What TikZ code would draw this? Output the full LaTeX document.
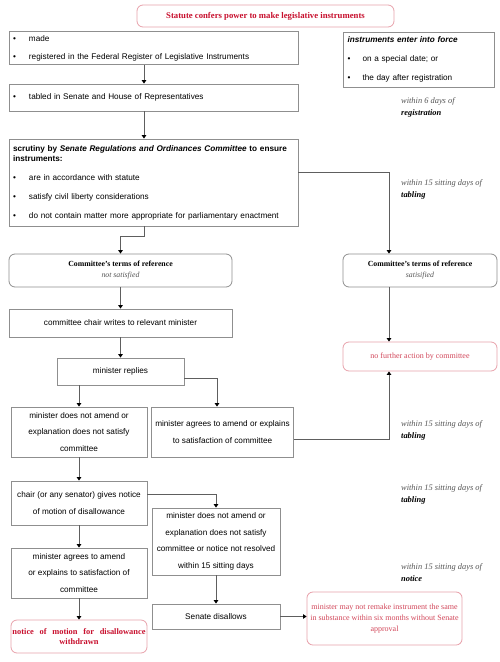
\documentclass[tikz,border=0pt]{standalone}
\usepackage{fontspec}
\setmainfont{Liberation Serif}
\setsansfont{Liberation Sans}
\usetikzlibrary{arrows.meta}
\definecolor{redtxt}{HTML}{C8102E}
\definecolor{lightred}{HTML}{D2475A}
\definecolor{pinkline}{HTML}{E8A2AC}
\definecolor{boxline}{HTML}{8F8F8F}
\definecolor{connline}{HTML}{5E5E5E}
\definecolor{labgray}{HTML}{555555}
\newcommand{\bul}[1]{\makebox[16pt][l]{\textbullet}#1}
\newcommand{\fbul}[1]{\makebox[15pt][l]{\textbullet}#1}
\tikzset{
  sbox/.style={draw=boxline, line width=0.8pt, inner sep=4pt, font=\sffamily\fontsize{8.2}{10}\selectfont},
  cbox/.style={sbox, align=center, font=\sffamily\fontsize{8.2}{16.5}\selectfont},
  rbox/.style={draw=boxline, line width=0.8pt, rounded corners=6pt, align=center},
  pbox/.style={draw=pinkline, line width=0.8pt, rounded corners=6pt, align=center},
  conn/.style={draw=connline, line width=0.8pt, -{Triangle[width=4.5pt,length=3.5pt,color=black]}},
  lab/.style={anchor=west, align=left, inner sep=0pt, font=\fontsize{8.4}{12}\selectfont},
}
\begin{document}
\begin{tikzpicture}[x=1pt,y=-1pt]
\useasboundingbox (0,0) rectangle (500,662);
\fill[white] (0,0) rectangle (500,662);

% title
\node[pbox, minimum width=257pt, minimum height=22pt, font=\bfseries\fontsize{8.7}{10}\selectfont, text=redtxt] (title) at (265.5,16) {Statute confers power to make legislative instruments};

% left column
\node[sbox, text width=281pt, minimum height=32pt, align=left] (b1) at (153.5,48)
  {\bul{made}\\[8pt]\bul{registered in the Federal Register of Legislative Instruments}};
\node[sbox, text width=281pt, minimum height=27pt, align=left] (b2) at (153.5,97.5)
  {\bul{tabled in Senate and House of Representatives}};
\node[sbox, text width=281pt, minimum height=87pt, align=left] (b3) at (153.5,182.5)
  {\textbf{scrutiny by \textit{Senate Regulations and Ordinances Committee} to ensure}\\
   \textbf{instruments:}\\[9pt]
   \bul{are in accordance with statute}\\[9pt]
   \bul{satisfy civil liberty considerations}\\[9pt]
   \bul{do not contain matter more appropriate for parliamentary enactment}};

% force box
\node[sbox, text width=142pt, minimum height=55pt, align=left, inner sep=4.5pt] (force) at (418.5,59.5)
  {\textbf{\textit{instruments enter into force}}\\[9pt]
   \fbul{on a special date; or}\\[9pt]
   \fbul{the day after registration}};

% committee terms
\node[rbox, minimum width=223pt, minimum height=33pt, font=\fontsize{7.8}{11}\selectfont] (ns) at (120.5,270.5)
  {\textbf{Committee’s terms of reference}\\\textcolor{labgray}{\textit{not satisfied}}};
\node[rbox, minimum width=154pt, minimum height=33pt, font=\fontsize{7.8}{11}\selectfont] (sat) at (420,270.5)
  {\textbf{Committee’s terms of reference}\\\textcolor{labgray}{\textit{satisified}}};

\node[cbox, minimum width=223pt, minimum height=28pt] (chair) at (120.5,323) {committee chair writes to relevant minister};
\node[cbox, minimum width=127pt, minimum height=27pt] (replies) at (120.5,371.5) {minister replies};
\node[pbox, minimum width=154pt, minimum height=29pt, font=\fontsize{8}{10}\selectfont, text=lightred] (nfa) at (420,356.5) {no further action by committee};

\node[cbox, minimum width=136pt, minimum height=50pt] (dna) at (79,432)
  {minister does not amend or\\explanation does not satisfy\\committee};
\node[cbox, minimum width=141pt, minimum height=50pt] (agr) at (222.5,432)
  {minister agrees to amend or explains\\to satisfaction of committee};

\node[cbox, minimum width=136pt, minimum height=44pt] (notice) at (79,503)
  {chair (or any senator) gives notice\\of motion of disallowance};
\node[cbox, minimum width=128pt, minimum height=67pt] (mdna) at (216,541.5)
  {minister does not amend or\\explanation does not satisfy\\committee or notice not resolved\\within 15 sitting days};
\node[cbox, minimum width=136pt, minimum height=50pt] (magr) at (79,573)
  {minister agrees to amend\\or explains to satisfaction of\\committee};
\node[pbox, minimum width=136pt, minimum height=33pt, inner sep=1pt, font=\bfseries\fontsize{8.4}{10.5}\selectfont, text=redtxt] (wd) at (79,636.5)
  {\makebox[133pt][s]{notice of motion for disallowance}\\withdrawn};
\node[cbox, minimum width=128pt, minimum height=25pt] (sd) at (216,616.5) {Senate disallows};
\node[pbox, minimum width=155pt, minimum height=53pt, font=\fontsize{8}{11.2}\selectfont, text=lightred] (remake) at (384.5,618.5)
  {minister may not remake instrument the same\\in substance within six months without Senate\\approval};

% timing labels
\node[lab] (l1) at (401,107.5) {\textcolor{labgray}{\textit{within 6 days of}}\\\textbf{\textit{registration}}};
\node[lab] (l2) at (401,189) {\textcolor{labgray}{\textit{within 15 sitting days of}}\\\textbf{\textit{tabling}}};
\node[lab] (l3) at (401,430) {\textcolor{labgray}{\textit{within 15 sitting days of}}\\\textbf{\textit{tabling}}};
\node[lab] (l4) at (401,494) {\textcolor{labgray}{\textit{within 15 sitting days of}}\\\textbf{\textit{tabling}}};
\node[lab] (l5) at (401,573) {\textcolor{labgray}{\textit{within 15 sitting days of}}\\\textbf{\textit{notice}}};

% connectors
\draw[conn] ([xshift=-9.5pt]b1.south) -- ([xshift=-9.5pt]b2.north);
\draw[conn] ([xshift=-9.5pt]b2.south) -- ([xshift=-9.5pt]b3.north);
\draw[conn] ([xshift=-9.5pt]b3.south) -- ++(0,10) -| (ns.north);
\draw[conn] ([yshift=10.5pt]b3.east) -| ([xshift=-31pt]sat.north);
\draw[conn] (ns.south) -- (chair.north);
\draw[conn] (chair.south) -- (replies.north);
\draw[conn] ([xshift=-31pt]sat.south) -- ([xshift=-31pt]nfa.north);
\draw[conn] (replies.south -| dna.north) -- (dna.north);
\draw[conn] ([yshift=-6.5pt]replies.east) -| ([xshift=-5.5pt]agr.north);
\draw[conn] ([yshift=-7pt]agr.east) -| ([xshift=-31pt]nfa.south);
\draw[conn] (dna.south) -- (notice.north);
\draw[conn] ([yshift=9pt]notice.east) -| (mdna.north);
\draw[conn] (notice.south) -- (magr.north);
\draw[conn] (magr.south) -- (wd.north);
\draw[conn] (mdna.south) -- (sd.north);
\draw[conn] (sd.east) -- (sd.east -| remake.west);
\end{tikzpicture}
\end{document}
